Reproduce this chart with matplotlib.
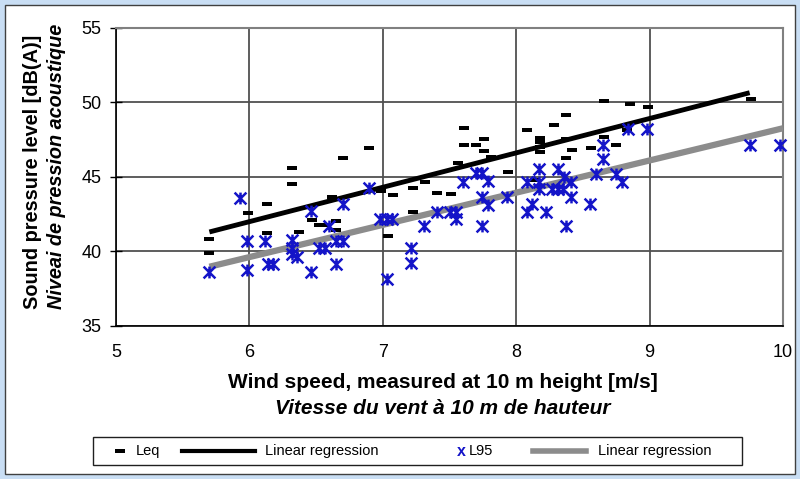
import matplotlib
matplotlib.use("Agg")
import matplotlib.pyplot as plt
from matplotlib.path import Path
from matplotlib.patches import Rectangle
from matplotlib.lines import Line2D

plt.rcParams['font.family'] = ['Liberation Sans', 'DejaVu Sans']

# ---- data ----
leq_x = [5.70, 5.70, 5.99, 6.13, 6.13, 6.32, 6.32, 6.37, 6.47, 6.52,
         6.57, 6.62, 6.65, 6.65, 6.70, 6.90, 6.99, 7.04, 7.08, 7.23,
         7.23, 7.32, 7.41, 7.51, 7.56, 7.61, 7.61, 7.70, 7.76, 7.76,
         7.81, 7.94, 8.08, 8.14, 8.18, 8.18, 8.18, 8.18, 8.28, 8.37,
         8.37, 8.37, 8.42, 8.56, 8.66, 8.66, 8.75, 8.83, 8.85, 8.99, 9.76]
leq_y = [40.85, 39.9, 42.55, 43.2, 41.25, 45.6, 44.5, 41.3, 42.1, 41.76,
         41.76, 43.66, 42.05, 41.43, 46.23, 46.9, 44.06, 41.0, 43.75, 44.22,
         42.63, 44.65, 43.94, 43.86, 45.94, 48.29, 47.12, 47.12, 47.5, 46.7,
         46.34, 45.3, 48.1, 44.78, 47.6, 47.3, 47.0, 46.65, 48.45, 49.14,
         47.55, 46.23, 46.8, 46.92, 50.09, 47.68, 47.12, 48.13, 49.88, 49.69, 50.2]

l95_x = [5.70, 5.93, 5.98, 5.98, 6.12, 6.14, 6.18, 6.32, 6.32, 6.32,
         6.36, 6.46, 6.46, 6.52, 6.57, 6.60, 6.65, 6.65, 6.70, 6.70,
         6.90, 6.98, 7.03, 7.07, 7.03, 7.21, 7.21, 7.31, 7.41, 7.50,
         7.55, 7.55, 7.60, 7.70, 7.74, 7.79, 7.74, 7.79, 7.74, 7.93,
         8.08, 8.08, 8.12, 8.17, 8.17, 8.17, 8.22, 8.27, 8.31, 8.35,
         8.31, 8.36, 8.41, 8.41, 8.37, 8.55, 8.60, 8.65, 8.65, 8.75,
         8.79, 8.84, 8.98, 9.75, 9.98]
l95_y = [38.65, 43.6, 38.75, 40.7, 40.7, 39.15, 39.15, 40.75, 40.25, 39.8,
         39.65, 38.65, 42.68, 40.25, 40.25, 41.7, 39.15, 40.7, 40.7, 43.15,
         44.22, 42.15, 42.15, 42.15, 38.15, 40.2, 39.2, 41.68, 42.65, 42.65,
         42.65, 42.2, 44.67, 45.22, 45.22, 44.7, 43.66, 43.12, 41.68, 43.66,
         44.65, 42.65, 43.18, 45.5, 44.65, 44.15, 42.65, 44.15, 44.15, 44.15,
         45.5, 45.0, 44.65, 43.66, 41.67, 43.2, 45.18, 47.12, 46.16, 45.18,
         44.65, 48.18, 48.18, 47.12, 47.12]

leq_reg_x = [5.70, 9.75]
leq_reg_y = [41.3, 50.63]
l95_reg_x = [5.70, 10.0]
l95_reg_y = [38.97, 48.25]

x_ticks = [5, 6, 7, 8, 9, 10]
y_ticks = [35, 40, 45, 50, 55]

xlabel1 = "Wind speed, measured at 10 m height [m/s]"
xlabel2 = "Vitesse du vent à 10 m de hauteur"
ylabel1 = "Sound pressure level [dB(A)]"
ylabel2 = "Niveai de pression acoustique"
legend_labels = ["Leq", "Linear regression", "L95", "Linear regression"]

# ---- styling ----
W, H = 800, 479
def fx(px):
    return px / W
def fy(py):
    return 1 - py / H

BLUE = '#1414c8'
dash_marker = Path([(-1, -0.45), (1, -0.45), (1, 0.45), (-1, 0.45), (-1, -0.45)],
                   [Path.MOVETO, Path.LINETO, Path.LINETO, Path.LINETO, Path.CLOSEPOLY])
star_marker = Path([(-1, -1), (1, 1), (-1, 1), (1, -1), (0, -1), (0, 1)],
                   [Path.MOVETO, Path.LINETO, Path.MOVETO, Path.LINETO, Path.MOVETO, Path.LINETO])

fig = plt.figure(figsize=(W / 100, H / 100), dpi=100)
fig.patch.set_facecolor('#c9def4')
fig.add_artist(Rectangle((fx(5), fy(474)), fx(790), 469 / H, transform=fig.transFigure,
                         facecolor='white', edgecolor='#404040', lw=1.0, zorder=-5))

ax = fig.add_axes([fx(116), fy(326), fx(783 - 116), (326 - 27.5) / H])
ax.set_xlim(5, 10)
ax.set_ylim(35, 55)
ax.set_xticks(x_ticks)
ax.set_yticks(y_ticks)
ax.grid(True, color='#505050', lw=1.3)
ax.set_axisbelow(True)
for s in ['top', 'right']:
    ax.spines[s].set_color('#808080')
    ax.spines[s].set_linewidth(1.5)
for s in ['left', 'bottom']:
    ax.spines[s].set_color('black')
    ax.spines[s].set_linewidth(1.2)
ax.tick_params(axis='y', direction='inout', length=9, width=1, labelsize=13, pad=6)
ax.tick_params(axis='x', length=0, labelsize=13, pad=13)

ax.plot(leq_reg_x, leq_reg_y, color='black', lw=3.5, solid_capstyle='butt', zorder=3)
ax.plot(l95_reg_x, l95_reg_y, color='#8c8c8c', lw=4.5, solid_capstyle='butt', zorder=3)
ax.plot(leq_x, leq_y, ls='none', marker=dash_marker, ms=6.5, color='black', mew=0, zorder=4)
ax.plot(l95_x, l95_y, ls='none', marker=star_marker, ms=8.5, color=BLUE, mew=1.8,
        zorder=5, clip_on=False)

# axis titles
cx = 443
fig.text(fx(cx), fy(383), xlabel1, ha='center', va='center', fontsize=15, fontweight='bold')
fig.text(fx(cx), fy(408), xlabel2, ha='center', va='center', fontsize=15,
         fontweight='bold', style='italic')
fig.text(fx(33), fy(172), ylabel1, ha='center', va='center', fontsize=14.3,
         fontweight='bold', rotation=90)
fig.text(fx(56), fy(166), ylabel2, ha='center', va='center', fontsize=14.3,
         fontweight='bold', style='italic', rotation=90)

# legend box
fig.add_artist(Rectangle((fx(93), fy(465)), fx(742 - 93), 28 / H, transform=fig.transFigure,
                         facecolor='white', edgecolor='#202020', lw=1.0, zorder=1))
ly = fy(451)
fig.add_artist(Line2D([fx(120)], [ly], ls='none', marker=dash_marker, ms=6.5, color='black',
                      mew=0, transform=fig.transFigure, zorder=2))
fig.text(fx(136), ly, legend_labels[0], ha='left', va='center', fontsize=10.5)
fig.add_artist(Line2D([fx(182), fx(255)], [ly, ly], color='black', lw=3,
                      transform=fig.transFigure, zorder=2))
fig.text(fx(265), ly, legend_labels[1], ha='left', va='center', fontsize=10.5)
fig.text(fx(461), ly, 'x', ha='center', va='center', fontsize=11.5, fontweight='bold', color=BLUE)
fig.text(fx(469), ly, legend_labels[2], ha='left', va='center', fontsize=10.5)
fig.add_artist(Line2D([fx(533), fx(586)], [ly, ly], color='#8c8c8c', lw=4,
                      transform=fig.transFigure, zorder=2))
fig.text(fx(598), ly, legend_labels[3], ha='left', va='center', fontsize=10.5)

fig.savefig('out.png', dpi=100, facecolor=fig.get_facecolor())
